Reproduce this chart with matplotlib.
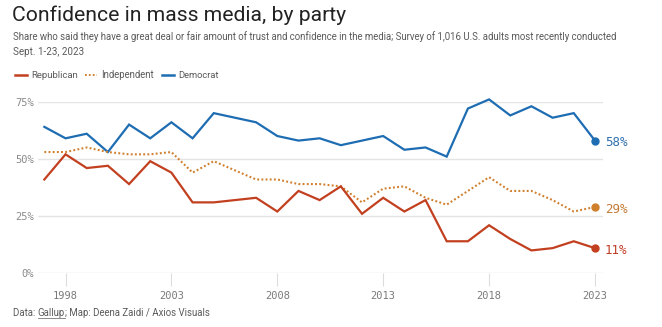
import matplotlib.pyplot as plt
import numpy as np

years = [1997, 1998, 1999, 2000, 2001, 2002, 2003, 2004, 2005, 2007, 2008,
         2009, 2010, 2011, 2012, 2013, 2014, 2015, 2016, 2017, 2018, 2019,
         2020, 2021, 2022, 2023]
republican = [41, 52, 46, 47, 39, 49, 44, 31, 31, 33, 27, 36, 32, 38, 26, 33,
              27, 32, 14, 14, 21, 15, 10, 11, 14, 11]
independent = [53, 53, 55, 53, 52, 52, 53, 44, 49, 41, 41, 39, 39, 38, 31, 37,
               38, 33, 30, 36, 42, 36, 36, 32, 27, 29]
democrat = [64, 59, 61, 53, 65, 59, 66, 59, 70, 66, 60, 58, 59, 56, 58, 60,
            54, 55, 51, 72, 76, 69, 73, 68, 70, 58]

xticks = [1998, 2003, 2008, 2013, 2018, 2023]
yticks = [0, 25, 50, 75]

red = "#c2401f"
orange = "#d07f2c"
blue = "#1e6db3"
grey = "#5a5a5a"
sans = "Roboto"

W, H = 662, 327
fig = plt.figure(figsize=(W / 100, H / 100), dpi=100)
fig.patch.set_facecolor("white")
renderer = fig.canvas.get_renderer()


def px(x, y):
    return x / W, 1 - y / H


def fit_text(x, y, s, width, size=8, **kw):
    # size the font so the string spans about `width` pixels
    t = fig.text(*px(x, y), s, fontsize=size, va="center", family=sans, **kw)
    w = t.get_window_extent(renderer).width
    t.set_fontsize(size * width / w)
    return t


# plot area in pixels: left 38, right 603, 75% at y=101.7, 0% at y=273.3
l, r, t, b = 38, 603, 101.7, 273.3
ax = fig.add_axes([l / W, 1 - b / H, (r - l) / W, (b - t) / H])
ax.set_xlim(1996.70, 2023.38)
ax.set_ylim(0, 75)

for s in ax.spines.values():
    s.set_visible(False)

ax.set_yticks(yticks)
ax.yaxis.grid(True, color="#e4e4e4", linewidth=1)
ax.set_axisbelow(True)
ax.tick_params(axis="y", length=0, pad=3, labelsize=7.5, labelcolor="#8a8a8a")
ax.set_yticklabels([f"{v}%" for v in yticks], family="DejaVu Sans Mono")

ax.set_xticks(xticks)
ax.tick_params(axis="x", length=9, width=0.8, color="#dcdcdc", pad=4,
               labelsize=7.5, labelcolor="#7a7a7a")
ax.set_xticklabels([str(v) for v in xticks], family="DejaVu Sans Mono")

ax.plot(years, democrat, color=blue, linewidth=1.6, clip_on=False,
        solid_joinstyle="miter")
ax.plot(years, independent, color=orange, linewidth=1.5, clip_on=False,
        linestyle=(0, (0.9, 1.1)))
ax.plot(years, republican, color=red, linewidth=1.6, clip_on=False,
        solid_joinstyle="miter")

# end markers and value labels
for vals, c, lc in [(democrat, blue, "#2f6fae"), (independent, orange, "#c47a35"),
                    (republican, red, "#bf3d25")]:
    ax.plot(years[-1], vals[-1], "o", color=c, markersize=5, clip_on=False)
    ax.annotate(f"{vals[-1]}%", (years[-1], vals[-1]), xytext=(7, -1.5),
                textcoords="offset points", va="center", ha="left",
                color=lc, fontsize=9, family="DejaVu Sans Mono")

# title, subtitle
fit_text(12, 15, "Confidence in mass media, by party", 336, size=14,
         color="#222222")
fit_text(13, 37,
         "Share who said they have a great deal or fair amount of trust and "
         "confidence in the media; Survey of 1,016 U.S. adults most recently conducted",
         604, size=6.5, color=grey)
fit_text(13, 52, "Sept. 1-23, 2023", 71, size=6.5, color=grey)

# legend: swatch then label, left to right
for name, c, ls, x0, tw in [("Republican", red, "-", 15, 47),
                            ("Independent", orange, ":", 85, 53),
                            ("Democrat", blue, "-", 162, 41)]:
    x1, y1 = px(x0, 75)
    x2, _ = px(x0 + 12, 75)
    if ls == "-":
        fig.add_artist(plt.Line2D([x1, x2], [y1, y1], color=c, linewidth=1.8))
    else:
        fig.add_artist(plt.Line2D([x1, x2], [y1, y1], color=c, linewidth=1.4,
                                  linestyle=(0, (0.9, 1.1))))
    fit_text(x0 + 16, 75, name, tw, size=6.8, color=grey)

# credits with underlined source
t1 = fit_text(13, 313, "Data: Gallup; Map: Deena Zaidi / Axios Visuals", 196,
              size=6.6, color=grey)
fsize = t1.get_fontsize()
t1.set_text("Data: ")
bb = t1.get_window_extent(renderer)
t2 = fig.text(bb.x1 / W, 1 - 313 / H, "Gallup", fontsize=fsize, family=sans,
              color=grey, va="center")
bb2 = t2.get_window_extent(renderer)
fig.add_artist(plt.Line2D([bb2.x0 / W, bb2.x1 / W], [(bb2.y0 + 0.5) / H] * 2,
                          color="#777777", linewidth=0.6))
fig.text(bb2.x1 / W, 1 - 313 / H, "; Map: Deena Zaidi / Axios Visuals",
         fontsize=fsize, family=sans, color=grey, va="center")

fig.savefig("out.png", dpi=100)
